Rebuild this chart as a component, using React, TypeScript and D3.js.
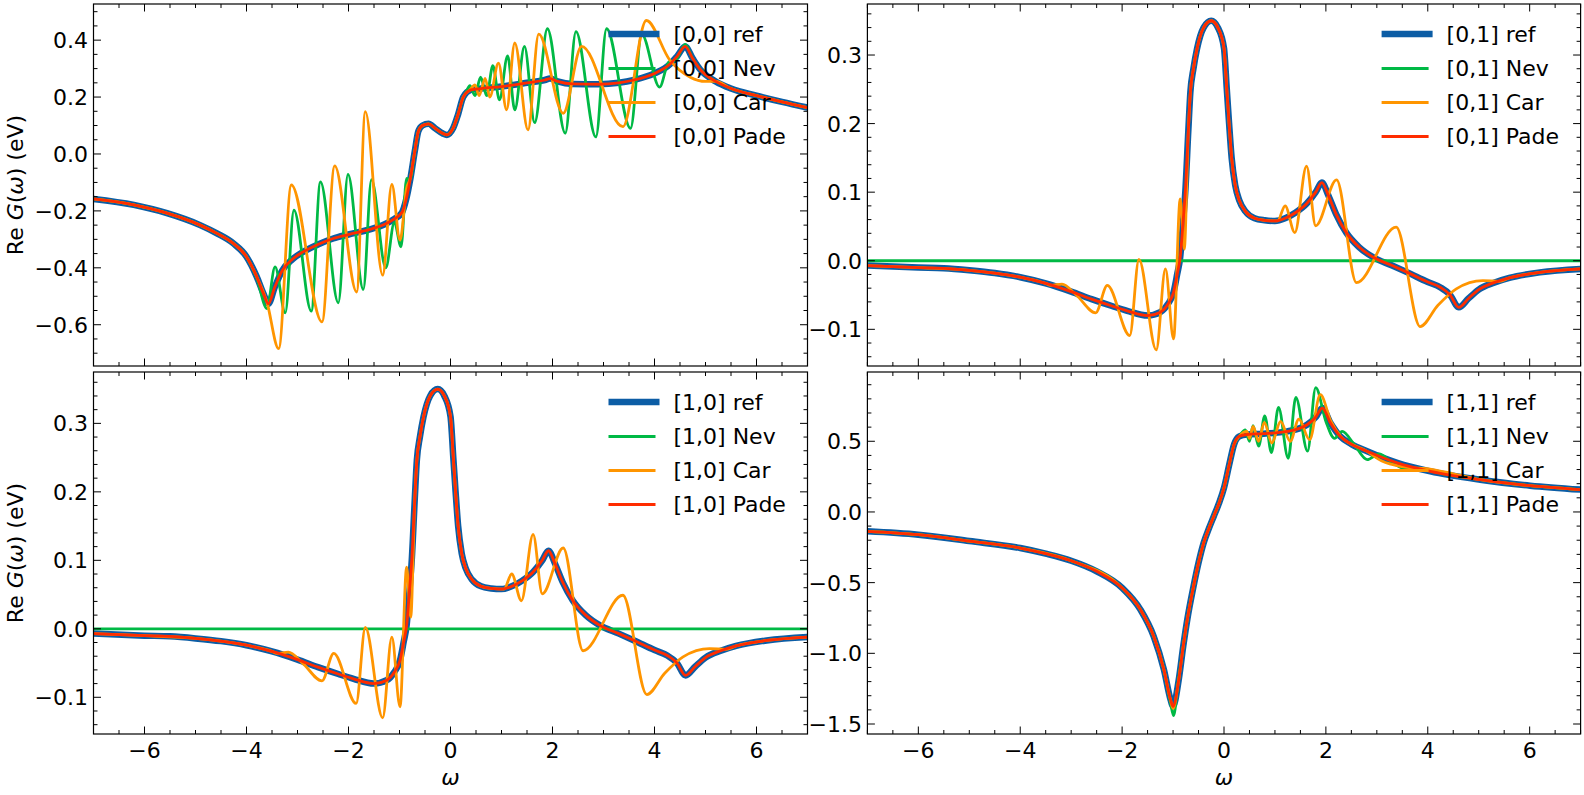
import React from "react";
import * as d3 from "d3";

type P = [number, number];

// ---------- data: G[0,0] ----------
const g00Ref: P[] = [
  [-7, -0.158], [-6.21, -0.179], [-5.56, -0.208], [-4.91, -0.25], [-4.58, -0.279], [-4.26, -0.314],
  [-4.0, -0.361], [-3.8, -0.431], [-3.67, -0.49], [-3.57, -0.526], [-3.45, -0.47],
  [-3.3, -0.41], [-3.1, -0.37], [-2.9, -0.345], [-2.6, -0.318], [-2.3, -0.297], [-2.0, -0.283],
  [-1.6, -0.266], [-1.3, -0.248], [-1.1, -0.228], [-0.95, -0.205], [-0.87, -0.16], [-0.79, -0.09],
  [-0.7, 0.01], [-0.63, 0.08], [-0.55, 0.1], [-0.43, 0.106], [-0.3, 0.09], [-0.15, 0.072],
  [-0.07, 0.067], [0.05, 0.09], [0.15, 0.14], [0.25, 0.2], [0.4, 0.225], [0.6, 0.23], [1.0, 0.237],
  [1.5, 0.25], [1.85, 0.26], [1.95, 0.265], [2.1, 0.255], [2.4, 0.246], [2.9, 0.245], [3.3, 0.25],
  [3.6, 0.26], [4.0, 0.283], [4.3, 0.315], [4.45, 0.345], [4.6, 0.378], [4.75, 0.335], [4.9, 0.296],
  [5.2, 0.255], [5.5, 0.23], [6.0, 0.205], [6.5, 0.183], [7.0, 0.163],
];
const g00Nev: P[] = [
  [-7, -0.158], [-6.21, -0.179], [-5.56, -0.208], [-4.91, -0.25], [-4.58, -0.279], [-4.26, -0.314],
  [-4.0, -0.361], [-3.8, -0.435],
  [-3.6, -0.543], [-3.44, -0.397], [-3.24, -0.558], [-3.07, -0.197], [-2.73, -0.552], [-2.55, -0.098],
  [-2.2, -0.523], [-2.01, -0.072], [-1.71, -0.476], [-1.55, -0.09], [-1.27, -0.4], [-1.1, -0.24],
  [-0.97, -0.326], [-0.86, -0.086], [-0.79, -0.09], [-0.7, 0.01], [-0.63, 0.08], [-0.55, 0.1],
  [-0.43, 0.106], [-0.3, 0.09], [-0.15, 0.072], [-0.07, 0.067], [0.05, 0.09], [0.15, 0.14], [0.25, 0.2],
  [0.3, 0.215], [0.38, 0.24], [0.48, 0.205], [0.59, 0.27], [0.71, 0.205], [0.83, 0.31], [0.96, 0.19],
  [1.12, 0.345], [1.26, 0.155], [1.45, 0.378], [1.65, 0.11], [1.9, 0.44], [2.25, 0.073], [2.46, 0.43],
  [2.85, 0.06], [3.06, 0.44], [3.53, 0.09], [3.75, 0.42], [4.1, 0.235], [4.28, 0.323], [4.42, 0.33],
  [4.6, 0.385], [4.75, 0.335], [4.9, 0.296], [5.2, 0.255], [5.5, 0.23], [6.0, 0.205], [6.5, 0.183], [7.0, 0.163],
];
const g00Car: P[] = [
  [-7, -0.158], [-6.21, -0.179], [-5.56, -0.208], [-4.91, -0.25], [-4.58, -0.279], [-4.26, -0.314],
  [-4.0, -0.361], [-3.8, -0.431],
  [-3.6, -0.52], [-3.37, -0.684], [-3.12, -0.109], [-2.52, -0.59], [-2.27, -0.042], [-1.84, -0.485],
  [-1.67, 0.149], [-1.33, -0.426], [-1.15, -0.107], [-0.99, -0.303], [-0.86, -0.12], [-0.79, -0.086],
  [-0.7, 0.01], [-0.63, 0.08], [-0.55, 0.1], [-0.43, 0.106], [-0.3, 0.09], [-0.15, 0.072], [-0.07, 0.067],
  [0.05, 0.09], [0.15, 0.14], [0.25, 0.2], [0.38, 0.225], [0.48, 0.243], [0.56, 0.205], [0.68, 0.266],
  [0.77, 0.2], [0.94, 0.319], [1.1, 0.155], [1.26, 0.39], [1.52, 0.085], [1.73, 0.421], [2.21, 0.143],
  [2.57, 0.378], [3.38, 0.096], [3.84, 0.469], [4.3, 0.33], [4.7, 0.27], [5.0, 0.255], [5.2, 0.255],
  [5.5, 0.23], [6.0, 0.205], [6.5, 0.183], [7.0, 0.163],
];
const g00Pade: P[] = g00Ref;

// ---------- data: G[0,1] = G[1,0] ----------
const g01Ref: P[] = [
  [-7, -0.007], [-6, -0.01], [-5.5, -0.011], [-5, -0.014], [-4.5, -0.018], [-4, -0.024], [-3.5, -0.033],
  [-3, -0.045], [-2.6, -0.056], [-2.2, -0.066], [-1.9, -0.073], [-1.5, -0.08], [-1.25, -0.075],
  [-1.1, -0.063], [-0.99, -0.046], [-0.92, -0.02], [-0.86, 0.005], [-0.8, 0.06], [-0.76, 0.1],
  [-0.7, 0.19], [-0.66, 0.246], [-0.6, 0.28], [-0.53, 0.309], [-0.4, 0.34], [-0.25, 0.35], [-0.12, 0.34],
  [0.0, 0.31], [0.055, 0.25], [0.1, 0.2], [0.15, 0.15], [0.22, 0.11], [0.3, 0.088], [0.42, 0.072],
  [0.6, 0.062], [0.8, 0.059], [1.0, 0.058], [1.2, 0.062], [1.4, 0.07], [1.62, 0.083], [1.8, 0.1],
  [1.92, 0.114], [2.05, 0.095], [2.2, 0.068], [2.4, 0.041], [2.65, 0.02], [2.93, 0.005], [3.3, -0.007],
  [3.6, -0.017], [4.0, -0.031], [4.25, -0.039], [4.43, -0.049], [4.61, -0.068], [4.8, -0.055],
  [5.0, -0.042], [5.3, -0.032], [5.6, -0.025], [6.2, -0.017], [7.0, -0.012],
];
const g01Nev: P[] = [[-7, 0.0], [7, 0.0]];
const g01Car: P[] = [
  [-7, -0.007], [-6, -0.01], [-5, -0.014], [-4, -0.024], [-3.5, -0.033], [-3.4, -0.036], [-3.18, -0.034],
  [-2.9, -0.05], [-2.52, -0.076], [-2.29, -0.036], [-1.85, -0.109], [-1.67, 0.002], [-1.33, -0.13],
  [-1.15, -0.012], [-0.99, -0.114], [-0.86, 0.09], [-0.78, 0.017], [-0.7, 0.19], [-0.66, 0.246],
  [-0.6, 0.28], [-0.53, 0.309], [-0.4, 0.34], [-0.25, 0.35], [-0.12, 0.34], [0.0, 0.31], [0.055, 0.25],
  [0.1, 0.2], [0.15, 0.15], [0.22, 0.11], [0.3, 0.088], [0.42, 0.072], [0.6, 0.062], [0.8, 0.059],
  [1.05, 0.058], [1.2, 0.08], [1.39, 0.041], [1.62, 0.138], [1.8, 0.051], [2.21, 0.118], [2.6, -0.032],
  [3.38, 0.049], [3.85, -0.096], [4.2, -0.065], [4.56, -0.041], [5.08, -0.029], [5.4, -0.03],
  [5.6, -0.025], [6.2, -0.017], [7.0, -0.012],
];
const g01Pade: P[] = g01Ref;

// ---------- data: G[1,1] ----------
const g11Ref: P[] = [
  [-7, -0.137], [-6, -0.161], [-5, -0.206], [-4, -0.255], [-3.5, -0.295], [-3, -0.345], [-2.5, -0.42],
  [-2.0, -0.537], [-1.64, -0.691], [-1.38, -0.88], [-1.18, -1.115], [-1.05, -1.327], [-1.0, -1.375],
  [-0.89, -1.19], [-0.8, -0.95], [-0.72, -0.76], [-0.6, -0.53], [-0.5, -0.36], [-0.4, -0.22],
  [-0.3, -0.12], [-0.2, -0.03], [-0.1, 0.06], [0.0, 0.17], [0.1, 0.33], [0.2, 0.48], [0.3, 0.535],
  [0.45, 0.548], [0.78, 0.554], [1.24, 0.57], [1.63, 0.617], [1.8, 0.67], [1.93, 0.735], [2.09, 0.629],
  [2.28, 0.535], [2.5, 0.48], [2.81, 0.429], [3.4, 0.347], [4.05, 0.287], [5.03, 0.228], [6.01, 0.186],
  [7.0, 0.158],
];
const g11Nev: P[] = [
  [-7, -0.137], [-6, -0.161], [-5, -0.206], [-4, -0.255], [-3, -0.345], [-2.0, -0.537], [-1.64, -0.691],
  [-1.38, -0.88], [-1.18, -1.115], [-1.05, -1.35], [-0.99, -1.44], [-0.9, -1.2], [-0.8, -0.95],
  [-0.72, -0.76], [-0.6, -0.53], [-0.5, -0.36], [-0.4, -0.22], [-0.3, -0.12], [-0.2, -0.03], [-0.1, 0.06],
  [0.0, 0.17], [0.1, 0.33], [0.2, 0.48], [0.3, 0.535], [0.42, 0.58], [0.5, 0.5], [0.57, 0.61], [0.68, 0.465],
  [0.8, 0.68], [0.93, 0.42], [1.07, 0.74], [1.26, 0.38], [1.41, 0.81], [1.64, 0.43], [1.8, 0.88],
  [2.0, 0.64], [2.17, 0.52], [2.32, 0.57], [2.55, 0.48], [2.81, 0.37], [3.04, 0.41], [3.3, 0.35],
  [3.6, 0.3], [3.9, 0.3], [4.3, 0.27], [5.03, 0.228], [6.01, 0.186], [7.0, 0.158],
];
const g11Car: P[] = [
  [-7, -0.137], [-6, -0.161], [-5, -0.206], [-4, -0.255], [-3, -0.345], [-2.0, -0.537], [-1.64, -0.691],
  [-1.38, -0.88], [-1.18, -1.115], [-1.05, -1.33], [-1.0, -1.39], [-0.89, -1.19], [-0.8, -0.95],
  [-0.72, -0.76], [-0.6, -0.53], [-0.5, -0.36], [-0.4, -0.22], [-0.3, -0.12], [-0.2, -0.03], [-0.1, 0.06],
  [0.0, 0.17], [0.1, 0.33], [0.2, 0.48], [0.3, 0.535], [0.45, 0.57], [0.5, 0.52], [0.57, 0.605],
  [0.68, 0.5], [0.79, 0.634], [0.94, 0.488], [1.11, 0.64], [1.3, 0.5], [1.47, 0.657], [1.68, 0.511],
  [1.89, 0.83], [2.1, 0.64], [2.29, 0.535], [2.8, 0.43], [3.1, 0.36], [3.5, 0.32], [4.1, 0.3],
  [4.5, 0.27], [5.03, 0.228], [6.01, 0.186], [7.0, 0.158],
];
const g11Pade: P[] = g11Ref;

// ---------- ticks ----------
const xMajor = [-6, -4, -2, 0, 2, 4, 6];
const yMajorG00 = [-0.6, -0.4, -0.2, 0.0, 0.2, 0.4];
const yMajorG01 = [-0.1, 0.0, 0.1, 0.2, 0.3];
const yMajorG11 = [-1.5, -1.0, -0.5, 0.0, 0.5];
const seriesNames = ["ref", "Nev", "Car", "Pade"];

const COLORS = ["#0C5DA5", "#00B945", "#FF9500", "#FF2C00"];
const WIDTHS = [6.5, 2.8, 2.8, 2.8];
const FONT = "DejaVu Sans";
const FS = 22;

interface PanelSpec {
  id: string;
  label: string;
  x0: number; x1: number; y0: number; y1: number;
  yDomain: [number, number];
  yMajor: number[];
  yMinorStep: number;
  series: P[][];
  showXLabels: boolean;
  showYLabel: boolean;
}

const fmt = (v: number, d: number) => {
  const s = Math.abs(v).toFixed(d);
  return (v < -1e-9 ? "\u2212" : "") + s;
};

function Panel({ p }: { p: PanelSpec }) {
  const x = d3.scaleLinear().domain([-7, 7]).range([p.x0, p.x1]);
  const y = d3.scaleLinear().domain(p.yDomain).range([p.y1, p.y0]);
  const line = d3
    .line<P>()
    .x((d) => x(d[0]))
    .y((d) => y(d[1]))
    .curve(d3.curveMonotoneX);
  const xMinor = d3.range(-7, 7.001, 0.5).filter((v) => !xMajor.some((m) => Math.abs(m - v) < 1e-6));
  const yStart = Math.ceil(p.yDomain[0] / p.yMinorStep) * p.yMinorStep;
  const yMinor = d3
    .range(yStart, p.yDomain[1], p.yMinorStep)
    .filter((v) => !p.yMajor.some((m) => Math.abs(m - v) < 1e-6));
  const MJ = 7.5, MN = 4;
  const clipId = "clip-" + p.id;
  const legendX = p.x1 - 199;
  const legendRows = [30, 64.5, 98.5, 132.5];
  return (
    <g>
      <defs>
        <clipPath id={clipId}>
          <rect x={p.x0} y={p.y0} width={p.x1 - p.x0} height={p.y1 - p.y0} />
        </clipPath>
      </defs>
      <g clipPath={`url(#${clipId})`}>
        {p.series.map((s, i) => (
          <path key={i} d={line(s) || ""} fill="none" stroke={COLORS[i]} strokeWidth={WIDTHS[i]}
            strokeLinejoin="round" strokeLinecap="butt" />
        ))}
      </g>
      {/* legend */}
      {seriesNames.map((n, i) => (
        <g key={n}>
          <line x1={legendX} x2={legendX + (i === 0 ? 51 : 47)} y1={p.y0 + legendRows[i]} y2={p.y0 + legendRows[i]}
            stroke={COLORS[i]} strokeWidth={WIDTHS[i]} />
          <text x={legendX + 65} y={p.y0 + legendRows[i]} dy="0.36em" fontFamily={FONT} fontSize={FS} fill="#000">
            {`${p.label} ${n}`}
          </text>
        </g>
      ))}
      {/* ticks */}
      <g stroke="#000" strokeWidth={1}>
        {xMajor.map((v) => (
          <g key={"xM" + v}>
            <line x1={x(v)} x2={x(v)} y1={p.y1} y2={p.y1 - MJ} />
            <line x1={x(v)} x2={x(v)} y1={p.y0} y2={p.y0 + MJ} />
          </g>
        ))}
        {xMinor.map((v) => (
          <g key={"xm" + v}>
            <line x1={x(v)} x2={x(v)} y1={p.y1} y2={p.y1 - MN} />
            <line x1={x(v)} x2={x(v)} y1={p.y0} y2={p.y0 + MN} />
          </g>
        ))}
        {p.yMajor.map((v) => (
          <g key={"yM" + v}>
            <line x1={p.x0} x2={p.x0 + MJ} y1={y(v)} y2={y(v)} />
            <line x1={p.x1} x2={p.x1 - MJ} y1={y(v)} y2={y(v)} />
          </g>
        ))}
        {yMinor.map((v) => (
          <g key={"ym" + v}>
            <line x1={p.x0} x2={p.x0 + MN} y1={y(v)} y2={y(v)} />
            <line x1={p.x1} x2={p.x1 - MN} y1={y(v)} y2={y(v)} />
          </g>
        ))}
      </g>
      <rect x={p.x0} y={p.y0} width={p.x1 - p.x0} height={p.y1 - p.y0} fill="none" stroke="#000" strokeWidth={1.2} />
      {/* y tick labels */}
      {p.yMajor.map((v) => (
        <text key={"yl" + v} x={p.x0 - 5.5} y={y(v)} dy="0.36em" textAnchor="end" fontFamily={FONT} fontSize={FS} fill="#000">
          {fmt(v, 1)}
        </text>
      ))}
      {p.showXLabels &&
        xMajor.map((v) => (
          <text key={"xl" + v} x={x(v)} y={p.y1 + 23.5} textAnchor="middle" fontFamily={FONT} fontSize={FS} fill="#000">
            {fmt(v, 0)}
          </text>
        ))}
      {p.showXLabels && (
        <text x={(p.x0 + p.x1) / 2} y={p.y1 + 51} textAnchor="middle" fontFamily={FONT} fontSize={FS} fontStyle="italic" fill="#000">
          ω
        </text>
      )}
      {p.showYLabel && (
        <text transform={`translate(15.5,${(p.y0 + p.y1) / 2}) rotate(-90)`} dy="0.36em" textAnchor="middle" fontFamily={FONT} fontSize={FS} fill="#000">
          <tspan>Re </tspan>
          <tspan fontStyle="italic">G</tspan>
          <tspan>(</tspan>
          <tspan fontStyle="italic">ω</tspan>
          <tspan>) (eV)</tspan>
        </text>
      )}
    </g>
  );
}

export default function App() {
  const LX0 = 93.5, LX1 = 807.5, RX0 = 867.4, RX1 = 1580.6;
  const TY0 = 4, TY1 = 366, BY0 = 372, BY1 = 734;
  const panels: PanelSpec[] = [
    { id: "tl", label: "[0,0]", x0: LX0, x1: LX1, y0: TY0, y1: TY1, yDomain: [-0.745, 0.527], yMajor: yMajorG00, yMinorStep: 0.05,
      series: [g00Ref, g00Nev, g00Car, g00Pade], showXLabels: false, showYLabel: true },
    { id: "tr", label: "[0,1]", x0: RX0, x1: RX1, y0: TY0, y1: TY1, yDomain: [-0.1535, 0.3744], yMajor: yMajorG01, yMinorStep: 0.02,
      series: [g01Ref, g01Nev, g01Car, g01Pade], showXLabels: false, showYLabel: false },
    { id: "bl", label: "[1,0]", x0: LX0, x1: LX1, y0: BY0, y1: BY1, yDomain: [-0.1536, 0.375], yMajor: yMajorG01, yMinorStep: 0.02,
      series: [g01Ref, g01Nev, g01Car, g01Pade], showXLabels: true, showYLabel: true },
    { id: "br", label: "[1,1]", x0: RX0, x1: RX1, y0: BY0, y1: BY1, yDomain: [-1.5707, 0.99], yMajor: yMajorG11, yMinorStep: 0.1,
      series: [g11Ref, g11Nev, g11Car, g11Pade], showXLabels: true, showYLabel: false },
  ];
  return (
    <svg width={1584} height={795} style={{ position: "absolute", left: 0, top: 0, background: "#fff" }}>
      <rect x={0} y={0} width={1584} height={795} fill="#fff" />
      {panels.map((p) => (
        <Panel key={p.id} p={p} />
      ))}
    </svg>
  );
}
